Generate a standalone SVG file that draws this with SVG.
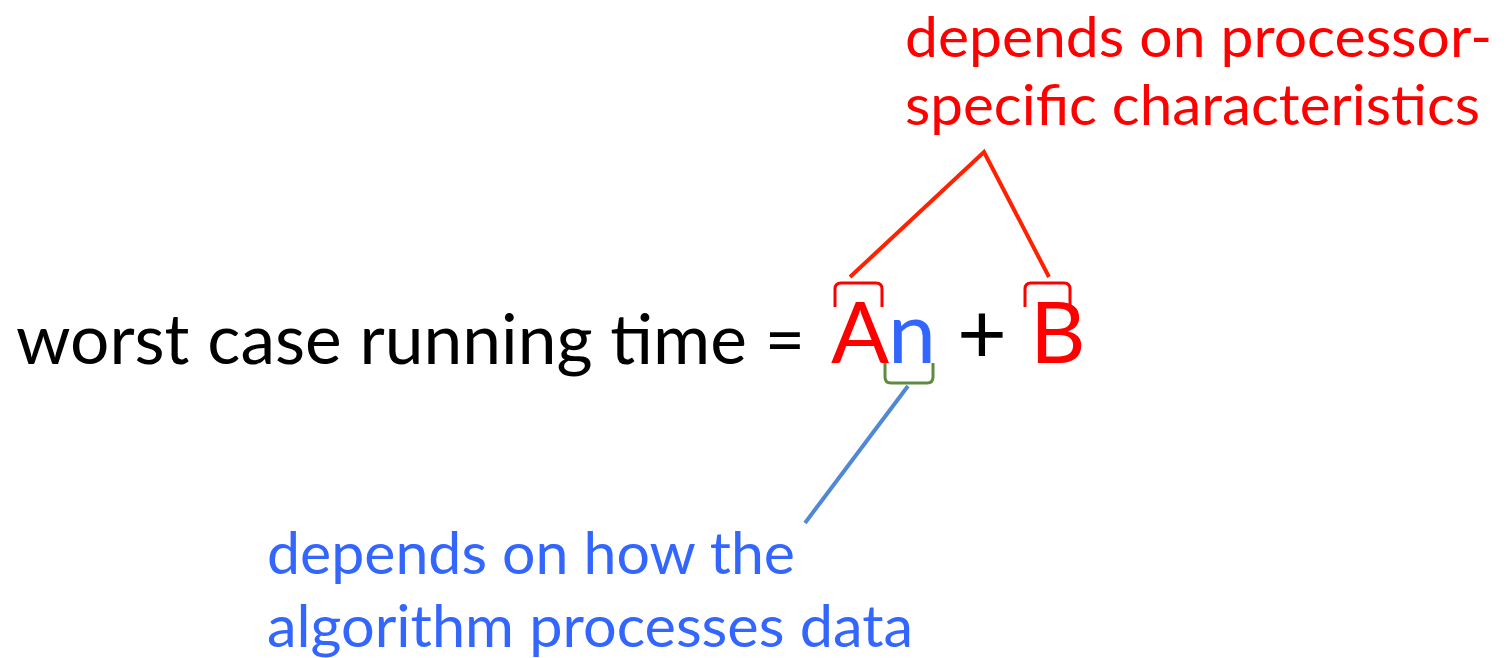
<svg xmlns="http://www.w3.org/2000/svg" width="1512" height="658" viewBox="0 0 1512 658">
<style>
text{font-family:Lato,"Open Sans","Liberation Sans",sans-serif;}
.main{font-size:69px;fill:#000;}
.big{font-size:86px;}
.red{fill:#FF0000;}
.blue{fill:#3366FF;}
.lbl{font-size:59px;}
.top{font-size:57px;}
.brk{fill:none;stroke-width:3;stroke-linejoin:round;}
</style>
<rect width="1512" height="658" fill="#fff"/>
<g id="connectors" fill="none" stroke-width="4" stroke-linecap="butt">
<path d="M850,277 L984,152 L1049,277" stroke="#FF2200"/>
<path d="M908,386 L805,523" stroke="#5088D4"/>
</g>
<g id="equation">
<text class="main" x="16" y="364" textLength="789" lengthAdjust="spacingAndGlyphs">worst case running time =</text>
<text class="main big red" x="831" y="363">A</text>
<text class="main big blue" x="888" y="363">n</text>
<text class="main big" x="957" y="363">+</text>
<text class="main big red" x="1030" y="363">B</text>
</g>
<g id="bracket-A">
<path class="brk" stroke="#FF0000" d="M835,307 V289 Q835,283 841,283 H876 Q882,283 882,289 V307"/>
</g>
<g id="bracket-B">
<path class="brk" stroke="#FF0000" d="M1025,307 V289 Q1025,283 1031,283 H1064 Q1070,283 1070,289 V307"/>
</g>
<g id="bracket-n">
<path class="brk" stroke="#5E8B3E" d="M885,363 V377 Q885,383 891,383 H927 Q933,383 933,377 V363"/>
</g>
<g id="label-processor">
<text class="top red" x="905" y="57" textLength="587" lengthAdjust="spacingAndGlyphs">depends on processor-</text>
<text class="top red" x="905" y="125" textLength="575" lengthAdjust="spacingAndGlyphs">specific characteristics</text>
</g>
<g id="label-algorithm">
<text class="lbl blue" x="267" y="574" textLength="528" lengthAdjust="spacingAndGlyphs">depends on how the</text>
<text class="lbl blue" x="267" y="647" textLength="646" lengthAdjust="spacingAndGlyphs">algorithm processes data</text>
</g>
</svg>
